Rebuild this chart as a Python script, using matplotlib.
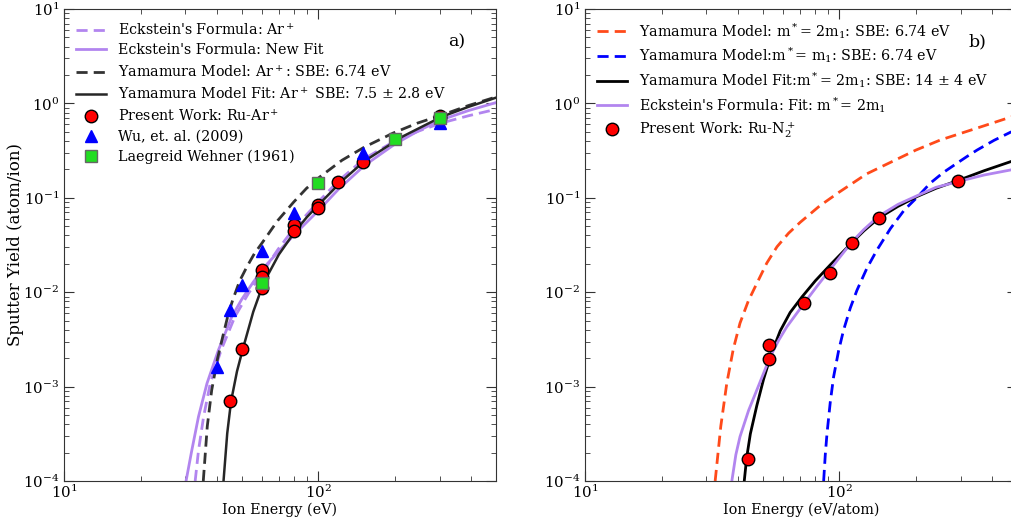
import matplotlib
matplotlib.use('Agg')
import matplotlib.pyplot as plt

plt.rcParams['font.family'] = ['DejaVu Serif']
plt.rcParams['mathtext.fontset'] = 'dejavuserif'

# ---- panel a) : Ru sputtered by Ar+ ----
# measured points
pw_E = [45, 50, 60, 60, 60, 80, 80, 100, 100, 120, 150, 300, 300]
pw_Y = [7.0e-4, 2.5e-3, 0.017, 0.0145, 0.011, 0.052, 0.045, 0.084, 0.078, 0.147, 0.24, 0.735, 0.70]
wu_E = [40, 45, 50, 60, 80, 150, 300]
wu_Y = [1.6e-3, 6.5e-3, 0.0119, 0.027, 0.069, 0.30, 0.62]
lw_E = [60, 100, 200, 300]
lw_Y = [0.0125, 0.144, 0.42, 0.70]

# model curves
eck_E = [32.8, 33.8, 35.4, 37.6, 41.5, 47.0, 53, 60, 69.3, 80, 101, 120, 152, 200, 250, 305, 390, 500]
eck_Y = [1e-4, 2.1e-4, 4.8e-4, 1.08e-3, 2.44e-3, 5.5e-3, 9.6e-3, 0.0158, 0.0282, 0.047, 0.093, 0.151,
         0.26, 0.40, 0.513, 0.62, 0.74, 0.866]
eckfit_E = [30.2, 31.8, 33.8, 36.5, 40.5, 45.7, 50, 55.5, 62.5, 70.7, 80, 101, 120, 152, 200, 250, 305,
            390, 500]
eckfit_Y = [1e-4, 2.1e-4, 4.8e-4, 1.08e-3, 2.44e-3, 5.5e-3, 8.4e-3, 0.0128, 0.0195, 0.028, 0.040, 0.075,
            0.123, 0.22, 0.37, 0.52, 0.67, 0.84, 1.02]
yam_E = [35.3, 36.6, 38.1, 40.2, 42.4, 44.2, 46.1, 49.1, 52.4, 56.1, 60, 69.3, 80, 89.9, 101, 124, 152,
         197, 245, 305, 390, 500]
yam_Y = [1e-4, 3.8e-4, 9.2e-4, 2.0e-3, 3.66e-3, 5.75e-3, 8.3e-3, 0.0132, 0.0186, 0.0257, 0.033, 0.0575,
         0.09, 0.126, 0.165, 0.25, 0.345, 0.485, 0.617, 0.75, 0.95, 1.17]
yamfit_E = [42.4, 43.85, 45.4, 47.9, 50.5, 55.5, 60.9, 70, 80.5, 90.2, 101, 124, 152, 215, 305, 390, 500]
yamfit_Y = [1e-4, 3.2e-4, 7e-4, 1.45e-3, 2.5e-3, 6.2e-3, 0.0125, 0.0251, 0.043, 0.0624, 0.086, 0.151,
            0.245, 0.447, 0.72, 0.92, 1.15]

# ---- panel b) : Ru sputtered by N2+ ----
pwn_E = [43.7, 52.7, 52.7, 72.8, 92.2, 112, 143, 292]
pwn_Y = [1.7e-4, 2.76e-3, 1.96e-3, 7.6e-3, 0.0158, 0.0334, 0.061, 0.152]

yam2_E = [32.5, 34.2, 36.1, 38.3, 40.7, 43.9, 47.4, 51.9, 56.9, 63.2, 70.2, 83.8, 100, 128, 200, 250, 350, 475]
yam2_Y = [1e-4, 3.8e-4, 1.08e-3, 2.5e-3, 4.7e-3, 8.1e-3, 0.0124, 0.0204, 0.0303, 0.0422, 0.055, 0.0822,
          0.115, 0.179, 0.32, 0.41, 0.55, 0.72]
yam1_E = [86.8, 88.1, 89.5, 92.2, 95, 99.4, 104, 110.5, 117.4, 128.5, 140.7, 159, 180, 203, 228, 257,
          290, 318, 348, 406, 475]
yam1_Y = [1e-4, 1.9e-4, 3.2e-4, 6.9e-4, 1.27e-3, 2.4e-3, 3.98e-3, 6.8e-3, 0.0105, 0.018, 0.028, 0.0473,
          0.074, 0.102, 0.143, 0.186, 0.232, 0.274, 0.32, 0.406, 0.50]
yamfit2_E = [42.3, 43.25, 44.7, 47.4, 50.4, 54.3, 58.6, 64.1, 71.3, 80.5, 92.2, 112, 125, 143, 170, 202,
             240, 292, 370, 471]
yamfit2_Y = [1e-4, 1.78e-4, 3.16e-4, 6.3e-4, 1.2e-3, 2.3e-3, 3.9e-3, 6.1e-3, 8.9e-3, 0.0132, 0.0195,
             0.0334, 0.0447, 0.061, 0.081, 0.103, 0.126, 0.152, 0.193, 0.241]
eck2_E = [37.8, 39.2, 40.7, 44, 47.4, 53.5, 57.8, 62.2, 72.4, 82, 92.2, 112, 125, 143, 170, 202, 240,
          292, 370, 471]
eck2_Y = [1e-4, 1.9e-4, 2.95e-4, 5.6e-4, 9.2e-4, 2.07e-3, 3.1e-3, 4.3e-3, 7.5e-3, 0.0117, 0.0175, 0.034,
          0.0462, 0.064, 0.085, 0.105, 0.129, 0.148, 0.174, 0.197]

purple = '#b285ef'
dash = (4, 2.2)
fs = 10.3
fig = plt.figure(figsize=(10.11, 5.25), dpi=100)
ax1 = fig.add_axes([64/1011, 44/525, 432/1011, 472/525])
ax2 = fig.add_axes([585/1011, 44/525, 432/1011, 472/525])

ax1.plot(eck_E, eck_Y, '--', color=purple, lw=2, dashes=dash, label="Eckstein's Formula: Ar$^+$")
ax1.plot(eckfit_E, eckfit_Y, '-', color=purple, lw=2, label="Eckstein's Formula: New Fit")
ax1.plot(yam_E, yam_Y, '--', color='#333333', lw=2, dashes=dash, label="Yamamura Model: Ar$^+$: SBE: 6.74 eV")
ax1.plot(yamfit_E, yamfit_Y, '-', color='#262626', lw=1.8, label="Yamamura Model Fit: Ar$^+$ SBE: 7.5 \u00b1 2.8 eV")
ax1.plot(pw_E, pw_Y, 'o', color='red', mec='black', ms=9, label="Present Work: Ru-Ar$^+$")
ax1.plot(wu_E, wu_Y, '^', color='blue', mec='blue', ms=9, label="Wu, et. al. (2009)")
ax1.plot(lw_E, lw_Y, 's', color='#22dd22', mec='#666666', ms=8.5, label="Laegreid Wehner (1961)")

ax2.plot(yam2_E, yam2_Y, '--', color='#ff4a1a', lw=2, dashes=dash, label="Yamamura Model: m$^*$= 2m$_1$: SBE: 6.74 eV")
ax2.plot(yam1_E, yam1_Y, '--', color='blue', lw=2, dashes=dash, label="Yamamura Model:m$^*$= m$_1$: SBE: 6.74 eV")
ax2.plot(yamfit2_E, yamfit2_Y, '-', color='black', lw=2, label="Yamamura Model Fit:m$^*$= 2m$_1$: SBE: 14 \u00b1 4 eV")
ax2.plot(eck2_E, eck2_Y, '-', color=purple, lw=2, label="Eckstein's Formula: Fit: m$^*$= 2m$_1$")
ax2.plot(pwn_E, pwn_Y, 'o', color='red', mec='black', ms=9, label="Present Work: Ru-N$_2^+$")

for ax, lab, xl, sp in [(ax1, 'a)', 'Ion Energy (eV)', 0.4), (ax2, 'b)', 'Ion Energy (eV/atom)', 0.34)]:
    ax.set_xscale('log')
    ax.set_yscale('log')
    ax.set_xlim(10, 500)
    ax.set_ylim(1e-4, 10)
    ax.tick_params(which='both', direction='in', top=True, right=True, labelsize=10.8, color='#333333')
    ax.tick_params(axis='x', pad=2)
    ax.tick_params(which='major', length=7)
    ax.tick_params(which='minor', length=3.5)
    for s in ax.spines.values():
        s.set_color('#333333')
    ax.set_xlabel(xl, fontsize=10.4, labelpad=1)
    ax.legend(loc='upper left', frameon=False, fontsize=fs, numpoints=1, handlelength=2.1,
              labelspacing=sp, borderaxespad=0.45)
    ax.text(0.889 if lab == 'a)' else 0.887, 0.921, lab, transform=ax.transAxes, fontsize=12.5)

ax1.set_ylabel('Sputter Yield (atom/ion)', fontsize=12)
ax1.yaxis.set_label_coords(-0.093, 0.5)

fig.savefig('out.png', dpi=100)
